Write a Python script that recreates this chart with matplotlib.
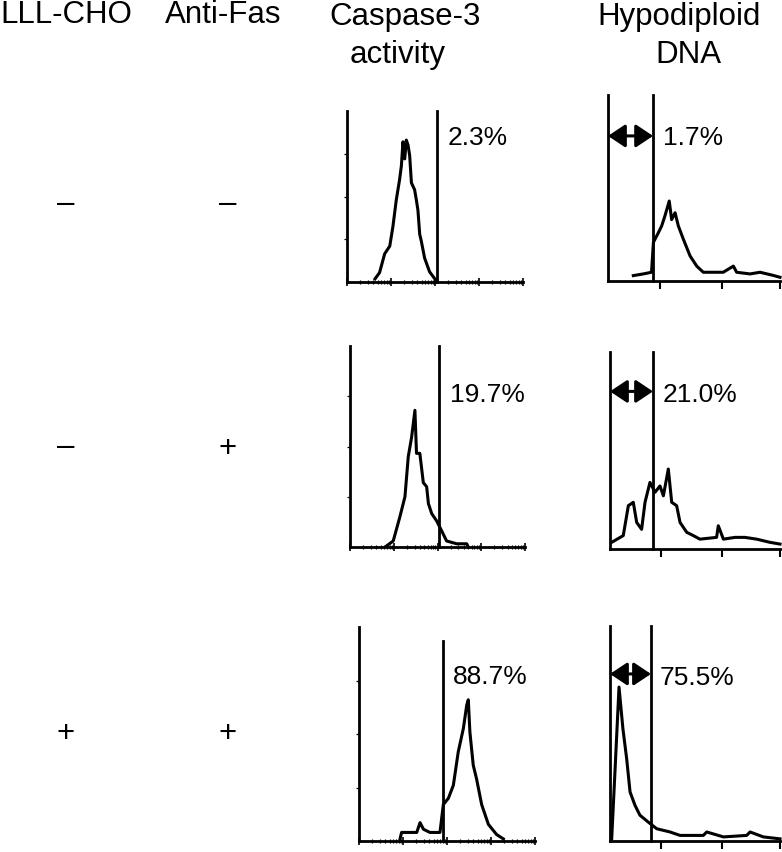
import numpy as np
import matplotlib.pyplot as plt

plt.rcParams['font.family'] = ['Liberation Sans', 'DejaVu Sans']

W, H = 782, 853

# column headers and row treatments
headers = ["LLL-CHO", "Anti-Fas", "Caspase-3", "activity", "Hypodiploid", "DNA"]
lll_cho = ["\u2013", "\u2013", "+"]
anti_fas = ["\u2013", "+", "+"]

# percentages in the gated region
casp_pct = ["2.3%", "19.7%", "88.7%"]
hypo_pct = ["1.7%", "21.0%", "75.5%"]

# caspase-3 histograms (channel 0-100, counts in % of axis height)
c1_x = [15.9, 18.5, 21.4, 24.3, 26.1, 28.0, 29.9, 30.9, 31.8, 32.8, 33.7, 34.7, 35.6, 36.6,
        38.4, 39.4, 40.3, 41.3, 42.2, 44.1, 46.9, 49.8, 51.3]
c1_y = [1.8, 5.5, 16.5, 21, 32.5, 48, 60, 68, 82, 72, 83, 80, 74, 58,
        54, 48, 42, 28, 24, 14, 6, 2, 0]
c2_x = [21.0, 24.7, 28.5, 31.4, 33.3, 35.2, 37.1, 38.0, 39.9, 41.9, 43.8, 44.8, 46.7, 49.5,
        52.4, 55.2, 61.0, 66.7, 67.6]
c2_y = [0.6, 3, 15, 25, 45, 54.6, 68, 46.6, 46.6, 32, 30, 21.6, 16.6, 13,
        8, 3, 1.6, 1.6, 0]
c3_x = [23.3, 24.2, 32.8, 34.7, 36.6, 40.3, 46.0, 47.9, 50.8, 53.6, 56.4, 59.3, 61.2, 62.1,
        63.0, 64.9, 66.8, 69.7, 73.5, 78.2, 82.0]
c3_y = [0.9, 4, 4, 8.6, 5.5, 4, 4, 17, 20, 26, 41.7, 52.6, 63.5, 66,
        51, 35.5, 29, 17, 7.8, 3, 1]

# hypodiploid DNA histograms
h1_x = [14.7, 20.5, 25.3, 26.4, 29.3, 31.2, 33.1, 35.6, 37.0, 39.0, 40.9, 43.8, 47.7, 51.6,
        55.4, 67.0, 72.9, 74.8, 82.6, 88.4, 96.1, 100]
h1_y = [2.9, 3.8, 4.7, 20.8, 26, 29.6, 35, 43, 33, 36.7, 29.6, 22.5, 13.5, 8,
        4.7, 4.7, 8, 4.7, 3.8, 4.7, 3, 2]
h2_x = [1.0, 7.8, 10.8, 13.7, 15.7, 18.6, 20.6, 23.5, 26.5, 29.4, 31.4, 34.3, 36.3, 39.2,
        41.2, 45.1, 49.0, 52.9, 62.7, 63.7, 66.7, 73.5, 79.4, 86.3, 94.0, 100]
h2_y = [3.4, 6.8, 22, 23.7, 13.5, 10, 23.7, 33.8, 28.8, 32, 27, 40.6, 23.7, 22,
        13.5, 8.5, 6.8, 5, 5.9, 11.8, 5, 5.9, 5.9, 5, 3.4, 2.5]
h3_x = [1.0, 3.0, 5.3, 7.6, 9.8, 11.8, 14.7, 17.6, 22.5, 27.5, 35.3, 41.2, 54.9, 56.9,
        66.7, 80.4, 82.4, 90.2, 100]
h3_y = [1, 33.5, 71.6, 52.2, 38.3, 22.8, 16.6, 12, 8.8, 5.7, 4.2, 2.6, 2.6, 4.2,
        1.9, 2.6, 4.2, 1.9, 1]

# gate positions (channel) and gate line heights (% of axis)
casp_gate = [51.1, 50.9, 47.7]
casp_gate_top = [100, 100, 93.5]
hypo_gate = [26.2, 25.3, 24.1]
hypo_arrow_y = [78, 80, 77.7]

fig = plt.figure(figsize=(W / 100, H / 100), dpi=100)


def px_axes(l, b, r, t):
    return fig.add_axes([l / W, 1 - b / H, (r - l) / W, (b - t) / H])


def ftext(x, y, s, **kw):
    fig.text(x / W, 1 - y / H, s, **kw)


def base_axes(ax):
    ax.set_xlim(0, 100)
    ax.set_ylim(0, 100)
    ax.patch.set_alpha(0)
    for sp in ["top", "right"]:
        ax.spines[sp].set_visible(False)
    for sp in ["left", "bottom"]:
        ax.spines[sp].set_linewidth(2.0)
    ax.set_yticks([])
    ax.set_xticklabels([])


casp_boxes = [(347, 283, 523, 112), (350, 548, 525, 347), (359, 842, 535, 628)]
hypo_boxes = [(608, 282, 780, 96), (610, 550, 780, 353), (610, 842, 780, 627)]
casp_data = [(c1_x, c1_y), (c2_x, c2_y), (c3_x, c3_y)]
hypo_data = [(h1_x, h1_y), (h2_x, h2_y), (h3_x, h3_y)]

minor = [25 * (d + np.log10(m)) for d in range(4) for m in range(2, 10)]

for i in range(3):
    ax = px_axes(*casp_boxes[i])
    base_axes(ax)
    ax.set_xticks([0, 25, 50, 75, 100])
    ax.set_xticks(minor, minor=True)
    ax.tick_params(axis="x", which="major", direction="inout", length=6, width=1.2)
    ax.tick_params(axis="x", which="minor", direction="inout", length=3.5, width=0.9)
    ax.set_yticks([25, 50, 75])
    ax.set_yticklabels([])
    ax.tick_params(axis="y", direction="out", length=2, width=0.9)
    x, y = casp_data[i]
    ax.plot(x, y, color="k", lw=2.2, clip_on=False)
    g = casp_gate[i]
    ax.plot([g, g], [0, casp_gate_top[i]], color="k", lw=2.0, clip_on=False)

    ax = px_axes(*hypo_boxes[i])
    base_axes(ax)
    ax.set_xticks([30, 66, 100])
    ax.tick_params(axis="x", direction="out", length=6, width=1.5)
    x, y = hypo_data[i]
    ax.plot(x, y, color="k", lw=2.2, clip_on=False)
    g = hypo_gate[i]
    ax.plot([g, g], [0, 100], color="k", lw=2.0, clip_on=False)
    ax.annotate("", xy=(0, hypo_arrow_y[i]), xytext=(g, hypo_arrow_y[i]),
                arrowprops=dict(arrowstyle="<|-|>,head_length=0.75,head_width=0.5",
                                mutation_scale=14, color="k", lw=2.2,
                                shrinkA=0, shrinkB=0))

# headers
hs = 22.5
ftext(66, 23, headers[0], ha="center", va="baseline", fontsize=hs)
ftext(223, 23, headers[1], ha="center", va="baseline", fontsize=hs)
ftext(405, 25, headers[2], ha="center", va="baseline", fontsize=hs)
ftext(398, 63, headers[3], ha="center", va="baseline", fontsize=hs)
ftext(679, 25, headers[4], ha="center", va="baseline", fontsize=hs)
ftext(688, 63, headers[5], ha="center", va="baseline", fontsize=hs)

# row treatment markers
row_y = [203, 446, 731]
for i in range(3):
    for xc, s in [(66, lll_cho[i]), (228, anti_fas[i])]:
        off = 9 if s != "+" else 11
        ftext(xc, row_y[i] + off, s, ha="center", va="baseline", fontsize=hs)

# percentages
ps = 19
casp_txt = [(448, 145), (450, 402), (453, 684)]
hypo_txt = [(663, 145), (663, 402), (660, 685)]
for i in range(3):
    ftext(casp_txt[i][0], casp_txt[i][1], casp_pct[i], ha="left", va="baseline", fontsize=ps)
    ftext(hypo_txt[i][0], hypo_txt[i][1], hypo_pct[i], ha="left", va="baseline", fontsize=ps)

fig.savefig("out.png", dpi=100)
